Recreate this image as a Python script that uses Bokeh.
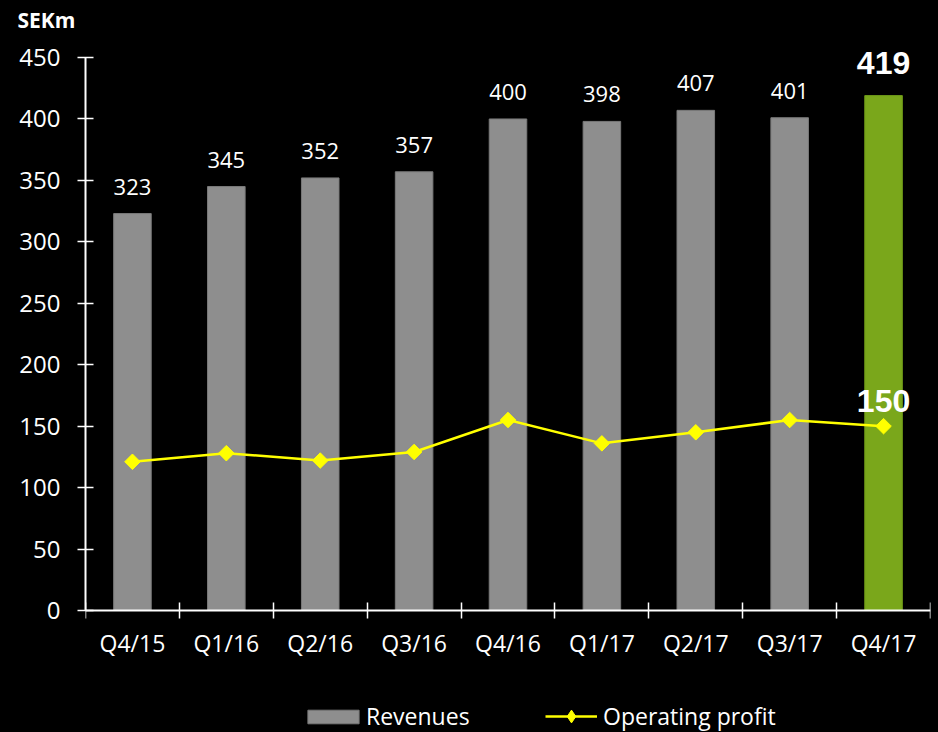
import numpy as np
from bokeh.plotting import figure
from bokeh.models import (ColumnDataSource, Range1d, FixedTicker, Legend, LegendItem)
from bokeh.core.properties import value
from bokeh.embed import file_html
from bokeh.resources import INLINE

# ---- data ----
quarters = ["Q4/15", "Q1/16", "Q2/16", "Q3/16", "Q4/16", "Q1/17", "Q2/17", "Q3/17", "Q4/17"]
revenues = [323, 345, 352, 357, 400, 398, 407, 401, 419]
operating_profit = [121, 128, 122, 129, 155, 136, 145, 155, 150]
y_ticks = [0, 50, 100, 150, 200, 250, 300, 350, 400, 450]

n = len(quarters)
xs = [i + 0.5 for i in range(n)]
GRAY = "#8e8e8e"
GREEN = "#7aa71b"
YELLOW = "#ffff00"
FONT = "Open Sans"

colors = [GRAY] * (n - 1) + [GREEN]
line_colors = ["#7a7a7a"] * (n - 1) + ["#6f9a18"]

bar_src = ColumnDataSource(dict(x=xs, top=revenues, color=colors, lc=line_colors))
lab_src = ColumnDataSource(dict(x=xs[:-1], y=revenues[:-1], t=[str(v) for v in revenues[:-1]]))
last_src = ColumnDataSource(dict(x=xs[-1:], y=revenues[-1:], t=[str(revenues[-1])]))
op_src = ColumnDataSource(dict(x=xs, y=operating_profit))
op_last = ColumnDataSource(dict(x=xs[-1:], y=operating_profit[-1:], t=[str(operating_profit[-1])]))

# frame spans 36..732 px; value 0 sits at 610 px (room below for the legend)
p = figure(width=938, height=732, output_backend="svg", toolbar_location=None,
           x_range=Range1d(0, n), y_range=Range1d(-99.3, 467.1),
           min_border_left=85, min_border_right=8, min_border_top=36, min_border_bottom=0,
           background_fill_color="black", border_fill_color="black")
p.styles = {"background-color": "black"}
p.outline_line_color = None
p.grid.visible = False

p.title.text = "SEKm"
p.title.align = "left"
p.title.offset = -68
p.title.standoff = 5
p.title.text_color = "white"
p.title.text_font = FONT
p.title.text_font_size = "21px"
p.title.text_font_style = "bold"

bars = p.vbar(x="x", top="top", width=0.4, bottom=0, source=bar_src,
              fill_color="color", line_color="lc", line_width=1)
line = p.line("x", "y", source=op_src, line_color=YELLOW, line_width=2.5)
pts = p.scatter("x", "y", source=op_src, marker="square", angle=np.pi / 4, size=11,
                fill_color=YELLOW, line_color=YELLOW)
# diamond used only as the legend key (hidden in the plot itself)
key_marker = p.scatter("x", "y", source=op_src, marker="diamond", size=12,
                       fill_color=YELLOW, line_color=YELLOW, visible=False)

p.text("x", "y", text="t", source=lab_src, text_color="white", text_align="center",
       text_baseline="alphabetic", y_offset=-27, text_font=value(FONT), text_font_size="22px")
p.text("x", "y", text="t", source=last_src, text_color="white", text_align="center",
       text_baseline="alphabetic", y_offset=-33, text_font=value("Liberation Sans"),
       text_font_size="32px", text_font_style="bold")
p.text("x", "y", text="t", source=op_last, text_color="white", text_align="center",
       text_baseline="alphabetic", y_offset=-25, text_font=value("Liberation Sans"),
       text_font_size="32px", text_font_style="bold")

# axes
xa = p.xaxis[0]
xa.fixed_location = 0
xa.ticker = FixedTicker(ticks=xs, minor_ticks=list(range(n + 1)))
xa.major_label_overrides = {x: q for x, q in zip(xs, quarters)}
xa.major_tick_in = 0
xa.major_tick_out = 0
xa.minor_tick_in = 8
xa.minor_tick_out = 8
xa.minor_tick_line_color = "white"
xa.minor_tick_line_width = 1.5
xa.axis_line_color = "white"
xa.axis_line_width = 2
xa.major_label_text_color = "white"
xa.major_label_text_font = FONT
xa.major_label_text_font_size = "23px"
xa.major_label_standoff = 9

ya = p.yaxis[0]
ya.ticker = FixedTicker(ticks=y_ticks)
ya.bounds = (0, 450)
ya.major_tick_in = 8
ya.major_tick_out = 8
ya.minor_tick_line_color = None
ya.major_tick_line_color = "white"
ya.major_tick_line_width = 1.5
ya.axis_line_color = "white"
ya.axis_line_width = 2
ya.major_label_text_color = "white"
ya.major_label_text_font = FONT
ya.major_label_text_font_size = "24px"
ya.major_label_standoff = 17

common = dict(orientation="horizontal", background_fill_alpha=0, border_line_color=None,
              label_text_color="white", label_text_font=FONT, label_text_font_size="23px",
              label_height=10, padding=0, margin=0)
leg_a = Legend(items=[LegendItem(label="Revenues", renderers=[bars])],
               location=(216, 0), glyph_width=64, glyph_height=17, label_standoff=1, **common)
leg_b = Legend(items=[LegendItem(label="Operating profit", renderers=[line, key_marker])],
               location=(460, 0), glyph_width=52, glyph_height=32, label_standoff=6, **common)
p.add_layout(leg_a, "center")
p.add_layout(leg_b, "center")

open("out.html", "w").write(file_html(p, INLINE))
